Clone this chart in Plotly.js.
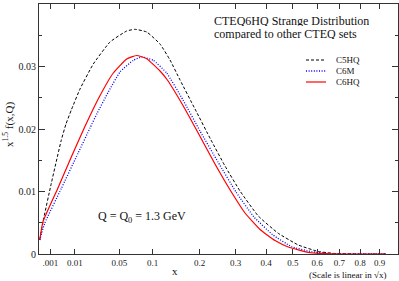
<!DOCTYPE html>
<html>
<head>
<meta charset="utf-8">
<script src="https://cdn.plot.ly/plotly-3.0.1.min.js"></script>
<style>html,body{margin:0;padding:0;background:#fff;}#chart{width:399px;height:281px;}</style>
</head>
<body>
<div id="chart"></div>
<script>
// ---- data (x is momentum fraction; the axis is linear in sqrt(x)) ----
var seriesNames = ["C5HQ", "C6M", "C6HQ"];

var xC5HQ = [0.0000038, 0.000124, 0.001174, 0.003858, 0.005657, 0.008095, 0.01304, 0.02288, 0.03911, 0.05968, 0.07151, 0.09, 0.1136, 0.1332, 0.1543, 0.1888, 0.2295, 0.2684, 0.3135, 0.3731, 0.4443, 0.5217, 0.6053, 0.6798, 0.7995, 0.9343];
var yC5HQ = [0.00224, 0.00517, 0.01131, 0.01824, 0.0208, 0.02304, 0.0264, 0.0304, 0.03392, 0.03568, 0.03595, 0.03552, 0.0336, 0.03104, 0.02784, 0.0232, 0.01824, 0.01408, 0.01008, 0.00608, 0.00331, 0.00144, 0.0004, 0.00008, 0.0, 0.0];

var xC6M = [0.0000038, 0.000252, 0.003858, 0.0118, 0.02018, 0.0261, 0.03726, 0.05091, 0.069, 0.08184, 0.1014, 0.1265, 0.1609, 0.2011, 0.2486, 0.3011, 0.3587, 0.4249, 0.4955, 0.577, 0.657, 0.7505, 0.9343];
var yC6M = [0.00224, 0.00491, 0.01048, 0.01611, 0.02016, 0.02248, 0.02592, 0.02912, 0.03099, 0.03152, 0.03099, 0.02896, 0.02464, 0.01968, 0.01472, 0.00992, 0.00592, 0.00304, 0.00117, 0.00037, 0.00006, 0.0, 0.0];

var xC6HQ = [0.0000038, 0.000124, 0.002656, 0.008095, 0.0162, 0.02793, 0.04283, 0.05968, 0.07406, 0.09, 0.1136, 0.1271, 0.1609, 0.1986, 0.2403, 0.289, 0.3293, 0.379, 0.4322, 0.4822, 0.5627, 0.6347, 0.7265, 0.9343];
var yC6HQ = [0.00224, 0.00517, 0.0104, 0.01552, 0.02032, 0.02504, 0.02896, 0.0312, 0.03176, 0.03125, 0.02928, 0.02792, 0.02376, 0.01912, 0.0144, 0.00976, 0.00656, 0.00392, 0.00216, 0.00112, 0.00027, 0.00005, 0.0, 0.0];

var xTickValues = [0.001, 0.01, 0.05, 0.1, 0.2, 0.3, 0.4, 0.5, 0.6, 0.7, 0.8, 0.9];
var xTickLabels = [".001", "0.01", "0.05", "0.1", "0.2", "0.3", "0.4", "0.5", "0.6", "0.7", "0.8", "0.9"];

// ---- build ----
function sq(a){ return a.map(function(v){ return Math.sqrt(v); }); }
var serif = "Liberation Serif, Times New Roman, serif";
var styles = [
  {color: "#000000", width: 1, dash: "3px,2px"},
  {color: "#0000ff", width: 1.3, dash: "1px,1.6px"},
  {color: "#ff0000", width: 1.2, dash: "solid"}
];
var xs = [xC5HQ, xC6M, xC6HQ], ys = [yC5HQ, yC6M, yC6HQ];
var traces = seriesNames.map(function(n, i){
  return {x: sq(xs[i]), y: ys[i], name: n, type: "scatter", mode: "lines",
          line: {color: styles[i].color, width: styles[i].width, dash: styles[i].dash, shape: "spline", smoothing: 0.4},
          showlegend: false, hoverinfo: "skip"};
});

// plot area in px: x 39..398, y 4..254
function px(p){ return (p - 39) / 359; }
function py(p){ return (254 - p) / 250; }

var shapes = [], annotations = [];
var legY = [60, 71, 82];
seriesNames.forEach(function(n, i){
  shapes.push({type: "line", xref: "paper", yref: "paper", x0: px(306), x1: px(326), y0: py(legY[i]), y1: py(legY[i]),
               line: {color: styles[i].color, width: styles[i].width, dash: styles[i].dash}});
  annotations.push({xref: "paper", yref: "paper", x: px(334), y: py(legY[i]), xanchor: "left", yanchor: "middle",
                    text: n, showarrow: false, height: 10, font: {family: serif, size: 9, color: "#111"}});
});
annotations.push({xref: "paper", yref: "paper", x: px(212), y: py(21), xanchor: "left", yanchor: "middle",
  text: "CTEQ6HQ Strange Distribution", showarrow: false, height: 11, font: {family: serif, size: 12, color: "#111"}});
annotations.push({xref: "paper", yref: "paper", x: px(212), y: py(33), xanchor: "left", yanchor: "middle",
  text: "compared to other CTEQ sets", showarrow: false, height: 11, font: {family: serif, size: 12, color: "#111"}});
annotations.push({xref: "paper", yref: "paper", x: px(96), y: py(217), xanchor: "left", yanchor: "middle",
  text: "Q = Q<sub>0</sub> = 1.3 GeV", showarrow: false, font: {family: serif, size: 12, color: "#111"}});
annotations.push({xref: "paper", yref: "paper", x: px(175), y: py(271), xanchor: "center", yanchor: "middle",
  text: "x", showarrow: false, font: {family: serif, size: 11, color: "#111"}});
annotations.push({xref: "paper", yref: "paper", x: px(388), y: py(275), xanchor: "right", yanchor: "middle",
  text: "(Scale is linear in \u221Ax)", showarrow: false, font: {family: serif, size: 9, color: "#111"}});
annotations.push({xref: "paper", yref: "paper", x: px(8), y: py(125), xanchor: "center", yanchor: "middle", textangle: -90,
  text: "x<sup>1.5</sup> f(x,Q)", showarrow: false, font: {family: serif, size: 11, color: "#111"}});

var layout = {
  width: 399, height: 281,
  margin: {l: 39, r: 1, t: 4, b: 27},
  paper_bgcolor: "#fff", plot_bgcolor: "#fff",
  showlegend: false,
  xaxis: {range: [0, 1], tickvals: sq(xTickValues), ticktext: xTickLabels, ticks: "inside", ticklen: 5,
          tickcolor: "#333", showline: true, linecolor: "#333", linewidth: 1, mirror: "allticks",
          showgrid: false, zeroline: false, tickfont: {family: serif, size: 9, color: "#222"}},
  yaxis: {range: [0, 0.04], dtick: 0.01, tick0: 0, ticks: "inside", ticklen: 6, tickcolor: "#333",
          showline: true, linecolor: "#333", linewidth: 1, mirror: "allticks", showgrid: false, zeroline: false,
          minor: {dtick: 0.005, ticks: "inside", ticklen: 3, tickcolor: "#333", showgrid: false},
          tickfont: {family: serif, size: 10, color: "#222"}},
  shapes: shapes, annotations: annotations
};
Plotly.newPlot("chart", traces, layout, {staticPlot: true, displayModeBar: false});
</script>
</body>
</html>
